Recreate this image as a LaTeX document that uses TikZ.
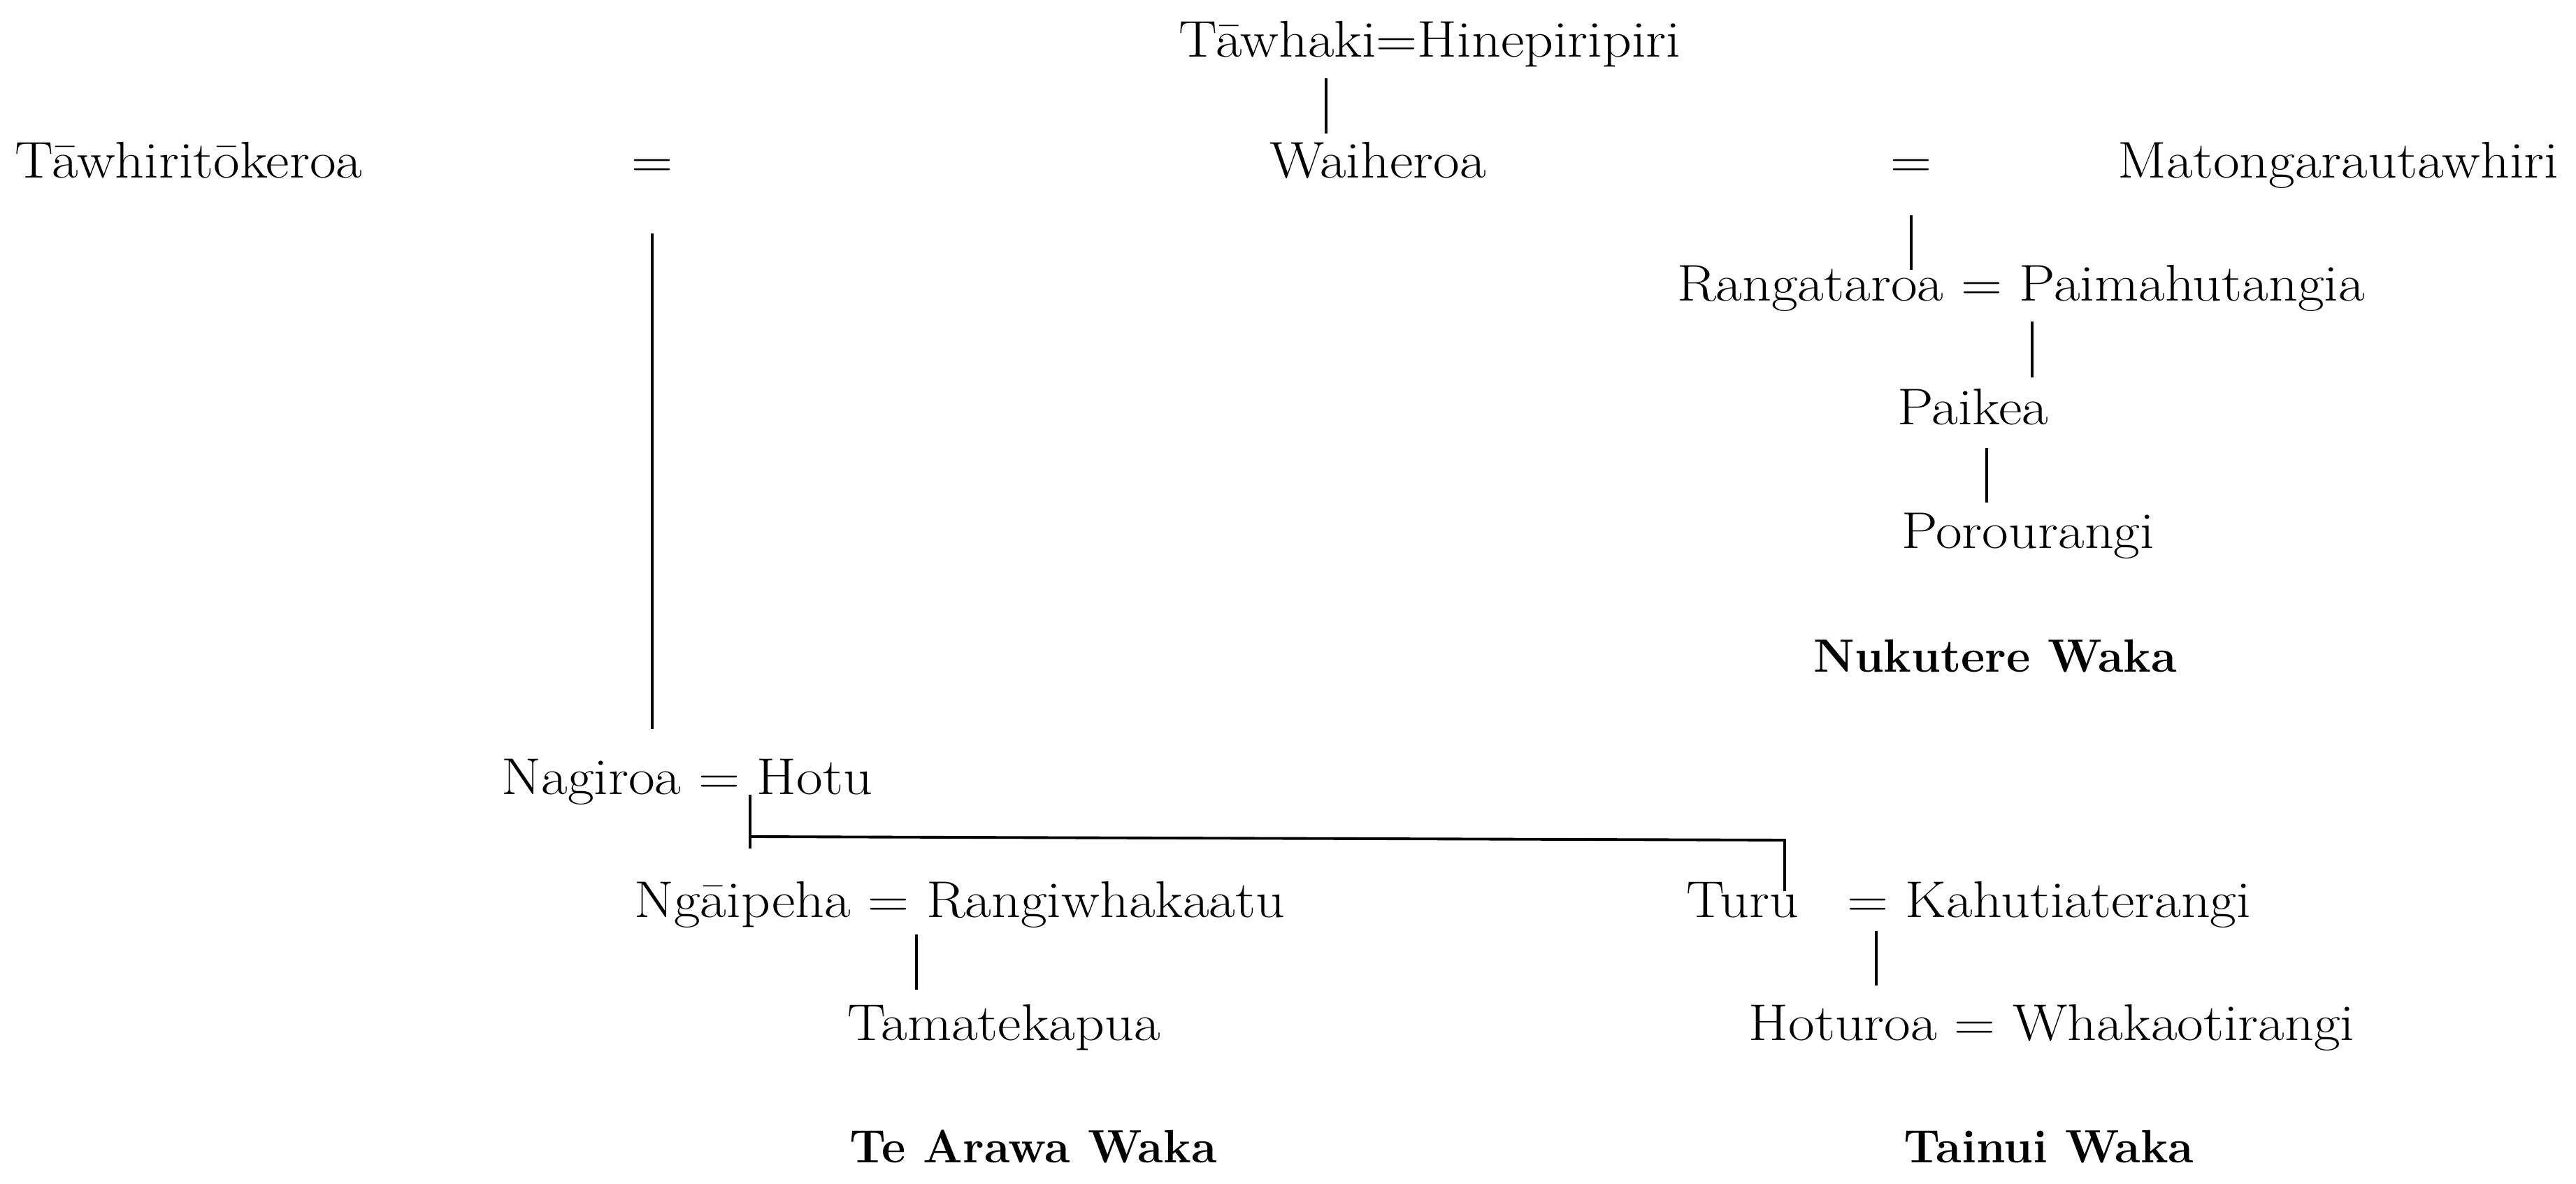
\documentclass[tikz,border=0pt]{standalone}
\usepackage{fontspec}
\usepackage{tikz}
\usetikzlibrary{positioning}
\newfontfamily\namefont{Latin Modern Roman}[FakeStretch=1.11]

\tikzset{
    person/.style={font=\namefont\fontsize{21}{25}\selectfont, inner sep=0pt, anchor=base},
    canoe/.style={font=\fontsize{19}{23}\selectfont\bfseries, inner sep=0pt, anchor=base},
    descent/.style={line width=1.1pt}
}

\begin{document}
\begin{tikzpicture}
    \useasboundingbox (0,0) rectangle (36.85,16.94);

    % Top generations
    \node[person] (tawhaki) at (20.45,16.12) {Tāwhaki=Hinepiripiri};
    \node[person] (tawhiri) at (2.70,14.39) {Tāwhiritōkeroa};
    \node[person] (eqL) at (9.33,14.39) {=};
    \node[person] (waiheroa) at (19.71,14.39) {Waiheroa};
    \node[person] (eqR) at (27.34,14.39) {=};
    \node[person] (matonga) at (33.45,14.39) {Matongarautawhiri};

    % Nukutere line
    \node[person] (rangataroa) at (28.91,12.63) {Rangataroa = Paimahutangia};
    \node[person] (paikea) at (28.22,10.86) {Paikea};
    \node[person] (porourangi) at (29.01,9.09) {Porourangi};
    \node[canoe] (nukutere) at (28.54,7.32) {Nukutere Waka};

    % Te Arawa and Tainui lines
    \node[person] (nagiroa) at (9.83,5.57) {Nagiroa = Hotu};
    \node[person] (ngaipeha) at (13.73,3.81) {Ngāipeha = Rangiwhakaatu};
    \node[person] (tamatekapua) at (14.36,2.05) {Tamatekapua};
    \node[canoe] (tearawa) at (14.78,0.30) {Te Arawa Waka};
    \node[person] (turu) at (24.93,3.81) {Turu};
    \node[person] (kahu) at (29.31,3.81) {= Kahutiaterangi};
    \node[person] (hoturoa) at (29.35,2.05) {Hoturoa = Whakaotirangi};
    \node[canoe] (tainui) at (29.31,0.30) {Tainui Waka};

    % Descent lines
    \coordinate (xTw) at (18.97,0);
    \coordinate (xPa) at (29.07,0);
    \coordinate (xPk) at (28.42,0);
    \coordinate (xTm) at (13.11,0);
    \coordinate (xKa) at (26.84,0);
    \coordinate (jL) at (10.73,4.97);
    \coordinate (jR) at (25.53,4.92);

    \draw[descent, shorten <=3mm, shorten >=6.4mm] (tawhaki.base -| xTw) -- (waiheroa.base -| xTw);
    \draw[descent, shorten <=7.9mm, shorten >=9.4mm] (eqL.base) -- (eqL.base |- nagiroa.base);
    \draw[descent, shorten <=5.3mm, shorten >=4.5mm] (eqR.base) -- (eqR.base |- rangataroa.base);
    \draw[descent, shorten <=2.9mm, shorten >=6.8mm] (rangataroa.base -| xPa) -- (paikea.base -| xPa);
    \draw[descent, shorten <=3.3mm, shorten >=6.6mm] (paikea.base -| xPk) -- (porourangi.base -| xPk);
    \draw[descent] (nagiroa.base -| jL) -- ([yshift=-1.7mm]jL);
    \draw[descent, shorten >=3.8mm] (jL) -- (jR) -- (jR |- turu.base);
    \draw[descent, shorten <=2.4mm, shorten >=7.3mm] (ngaipeha.base -| xTm) -- (tamatekapua.base -| xTm);
    \draw[descent, shorten <=1.9mm, shorten >=7.9mm] (kahu.base -| xKa) -- (hoturoa.base -| xKa);
\end{tikzpicture}
\end{document}
